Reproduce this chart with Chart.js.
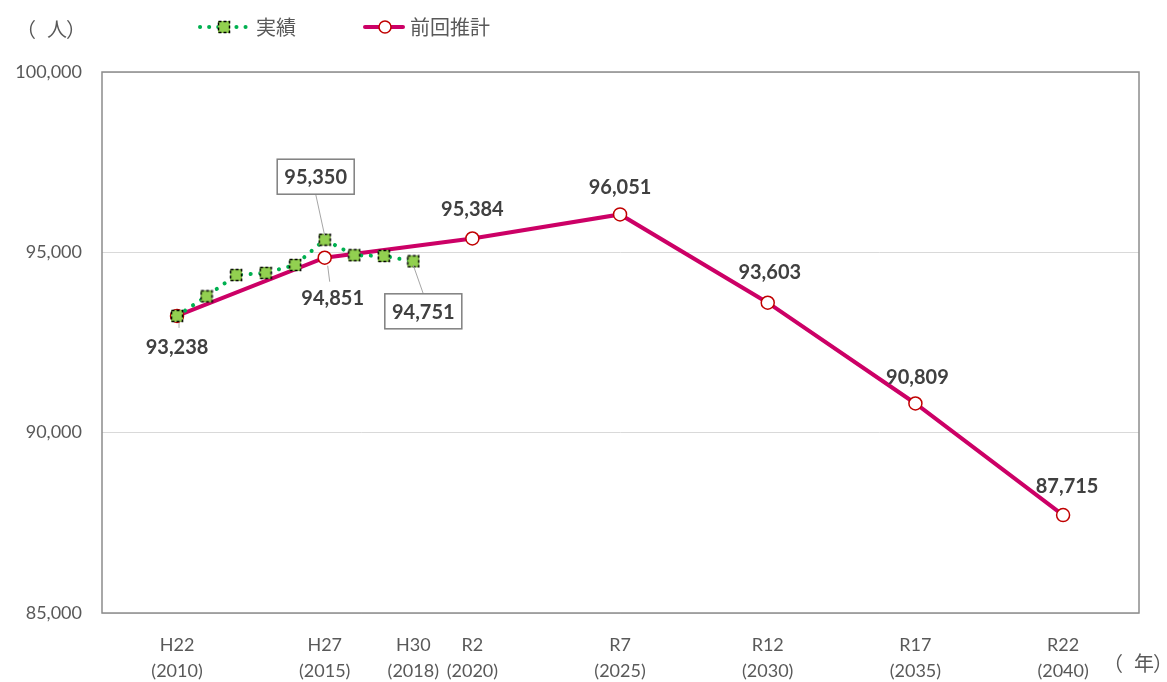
<!DOCTYPE html>
<html>
<head>
<meta charset="utf-8">
<script src="https://cdn.jsdelivr.net/npm/chart.js@4"></script>
<style>
  body { margin: 0; background: #fff; }
</style>
</head>
<body>
<canvas id="popChart" width="1167" height="682"></canvas>
<script>
// data
const actualYears = [2010, 2011, 2012, 2013, 2014, 2015, 2016, 2017, 2018];
const actualValues = [93238, 93780, 94370, 94430, 94650, 95350, 94920, 94900, 94751];
const forecastYears = [2010, 2015, 2020, 2025, 2030, 2035, 2040];
const forecastValues = [93238, 94851, 95384, 96051, 93603, 90809, 87715];
const tickYears = [2010, 2015, 2018, 2020, 2025, 2030, 2035, 2040];
const tickLabels = [
  ["H22", "(2010)"], ["H27", "(2015)"], ["H30", "(2018)"], ["R2", "(2020)"],
  ["R7", "(2025)"], ["R12", "(2030)"], ["R17", "(2035)"], ["R22", "(2040)"]
];
const seriesNames = ["実績", "前回推計"];

const numFont = "Lato, 'Noto Sans', sans-serif";
const jpFont = "'Noto Sans CJK JP', sans-serif";

// square marker with dashed black edge
function makeSquare() {
  const c = document.createElement("canvas");
  c.width = 14;
  c.height = 14;
  const g = c.getContext("2d");
  g.fillStyle = "#92D050";
  g.fillRect(1, 1, 12, 12);
  g.strokeStyle = "#000";
  g.lineWidth = 1.5;
  g.setLineDash([3, 2]);
  g.strokeRect(1.5, 1.5, 11, 11);
  return c;
}
const squareImg = makeSquare();

// label offsets for the forecast points (dx, dy from point)
const forecastLabelPos = [[0, 32], [8, 41], [0, -29], [0, -27], [2, -30], [2, -26], [4, -29]];

// draws a unit like "（ 人）" in three pieces
function drawUnit(ctx, ch, x, y) {
  ctx.fillText("（", x, y);
  ctx.fillText(ch, x + 31, y);
  ctx.fillText("）", x + 50, y);
}

const labelPlugin = {
  id: "labels",
  beforeDraw(chart) {
    const ctx = chart.ctx;
    ctx.save();
    ctx.fillStyle = "#fff";
    ctx.fillRect(0, 0, chart.width, chart.height);
    ctx.restore();
  },
  afterDraw(chart) {
    const ctx = chart.ctx;
    const a = chart.chartArea;
    ctx.save();
    // plot box
    ctx.strokeStyle = "#8c8c8c";
    ctx.lineWidth = 1.5;
    ctx.strokeRect(a.left, a.top, a.right - a.left, a.bottom - a.top);

    ctx.font = "bold 20px " + numFont;
    ctx.fillStyle = "#404040";
    ctx.textAlign = "center";
    ctx.textBaseline = "middle";

    const fMeta = chart.getDatasetMeta(1);
    fMeta.data.forEach((p, i) => {
      const [dx, dy] = forecastLabelPos[i];
      ctx.fillText(forecastValues[i].toLocaleString("en-US"), p.x + dx, p.y + dy);
    });
    // small leader for 94,851
    const p15 = fMeta.data[1];
    ctx.strokeStyle = "#a6a6a6";
    ctx.lineWidth = 1;
    ctx.beginPath();
    ctx.moveTo(p15.x + 3, p15.y + 8);
    ctx.lineTo(p15.x + 5, p15.y + 24);
    ctx.stroke();
    // small leader for 93,238
    const p10 = fMeta.data[0];
    ctx.beginPath();
    ctx.moveTo(p10.x + 2, p10.y + 7);
    ctx.lineTo(p10.x + 2, p10.y + 12);
    ctx.stroke();

    // boxed labels for actual values
    const aMeta = chart.getDatasetMeta(0);
    const boxed = [
      { idx: 5, cx: -9, cy: -63 },
      { idx: 8, cx: 10, cy: 50 }
    ];
    boxed.forEach((b) => {
      const p = aMeta.data[b.idx];
      const bx = p.x + b.cx, by = p.y + b.cy;
      const w = 77, h = 35;
      ctx.strokeStyle = "#a6a6a6";
      ctx.lineWidth = 1;
      ctx.beginPath();
      if (b.cy < 0) {
        ctx.moveTo(bx, by + h / 2);
        ctx.lineTo(p.x, p.y - 4);
      } else {
        ctx.moveTo(bx, by - h / 2);
        ctx.lineTo(p.x, p.y + 4);
      }
      ctx.stroke();
      ctx.fillStyle = "#fff";
      ctx.fillRect(bx - w / 2, by - h / 2, w, h);
      ctx.strokeStyle = "#7f7f7f";
      ctx.lineWidth = 1.5;
      ctx.strokeRect(bx - w / 2, by - h / 2, w, h);
      ctx.fillStyle = "#404040";
      ctx.fillText(actualValues[b.idx].toLocaleString("en-US"), bx, by + 1);
    });

    // unit labels
    ctx.font = "20px " + jpFont;
    ctx.fillStyle = "#595959";
    ctx.textAlign = "left";
    drawUnit(ctx, "人", 16, 29);
    drawUnit(ctx, "年", 1103, 663);

    // legend
    ctx.strokeStyle = "#00B050";
    ctx.lineWidth = 4;
    ctx.lineCap = "round";
    ctx.setLineDash([0.1, 9]);
    ctx.beginPath();
    ctx.moveTo(200, 27);
    ctx.lineTo(248, 27);
    ctx.stroke();
    ctx.setLineDash([]);
    ctx.drawImage(squareImg, 217, 20);
    ctx.fillStyle = "#595959";
    ctx.font = "20px " + jpFont;
    ctx.fillText(seriesNames[0], 256, 27);

    ctx.strokeStyle = "#CC0066";
    ctx.lineWidth = 4;
    ctx.beginPath();
    ctx.moveTo(365, 27);
    ctx.lineTo(403, 27);
    ctx.stroke();
    ctx.beginPath();
    ctx.arc(385, 27, 6, 0, Math.PI * 2);
    ctx.fillStyle = "#fff";
    ctx.fill();
    ctx.strokeStyle = "#C00000";
    ctx.lineWidth = 1.5;
    ctx.stroke();
    ctx.fillStyle = "#595959";
    ctx.fillText(seriesNames[1], 410, 27);
    ctx.restore();
  }
};

new Chart(document.getElementById("popChart"), {
  type: "line",
  data: {
    datasets: [
      {
        label: seriesNames[0],
        data: actualYears.map((y, i) => ({ x: y, y: actualValues[i] })),
        borderColor: "#00B050",
        borderWidth: 4,
        borderDash: [0.1, 9.5],
        borderCapStyle: "round",
        pointStyle: squareImg,
        pointRadius: 7,
        tension: 0,
      },
      {
        label: seriesNames[1],
        data: forecastYears.map((y, i) => ({ x: y, y: forecastValues[i] })),
        borderColor: "#CC0066",
        borderWidth: 4,
        pointStyle: "circle",
        pointRadius: 6.5,
        pointBorderWidth: 1.5,
        pointBackgroundColor: "#fff",
        pointBorderColor: "#C00000",
        tension: 0,
      },
    ],
  },
  options: {
    responsive: false,
    animation: false,
    layout: { padding: { top: 72, right: 28, left: 0, bottom: 0 } },
    plugins: {
      legend: { display: false },
      tooltip: { enabled: false },
    },
    scales: {
      x: {
        type: "linear",
        min: 2007.46,
        max: 2042.57,
        afterBuildTicks: (scale) => {
          scale.ticks = tickYears.map((v) => ({ value: v }));
        },
        afterFit: (scale) => {
          scale.height = 69;
        },
        grid: { display: false, drawTicks: false },
        border: { display: false },
        ticks: {
          autoSkip: false,
          maxRotation: 0,
          padding: 19,
          color: "#595959",
          font: { family: numFont, size: 18, lineHeight: 1.45 },
          callback: (v) => {
            const i = tickYears.indexOf(v);
            return i >= 0 ? tickLabels[i] : "";
          },
        },
      },
      y: {
        min: 85000,
        max: 100000,
        afterFit: (scale) => {
          scale.width = 102;
        },
        grid: { color: "#d9d9d9", lineWidth: 1, drawTicks: false },
        border: { display: false },
        ticks: {
          stepSize: 5000,
          padding: 20,
          color: "#595959",
          font: { family: numFont, size: 18 },
          callback: (v) => v.toLocaleString("en-US"),
        },
      },
    },
  },
  plugins: [labelPlugin],
});
</script>
</body>
</html>
